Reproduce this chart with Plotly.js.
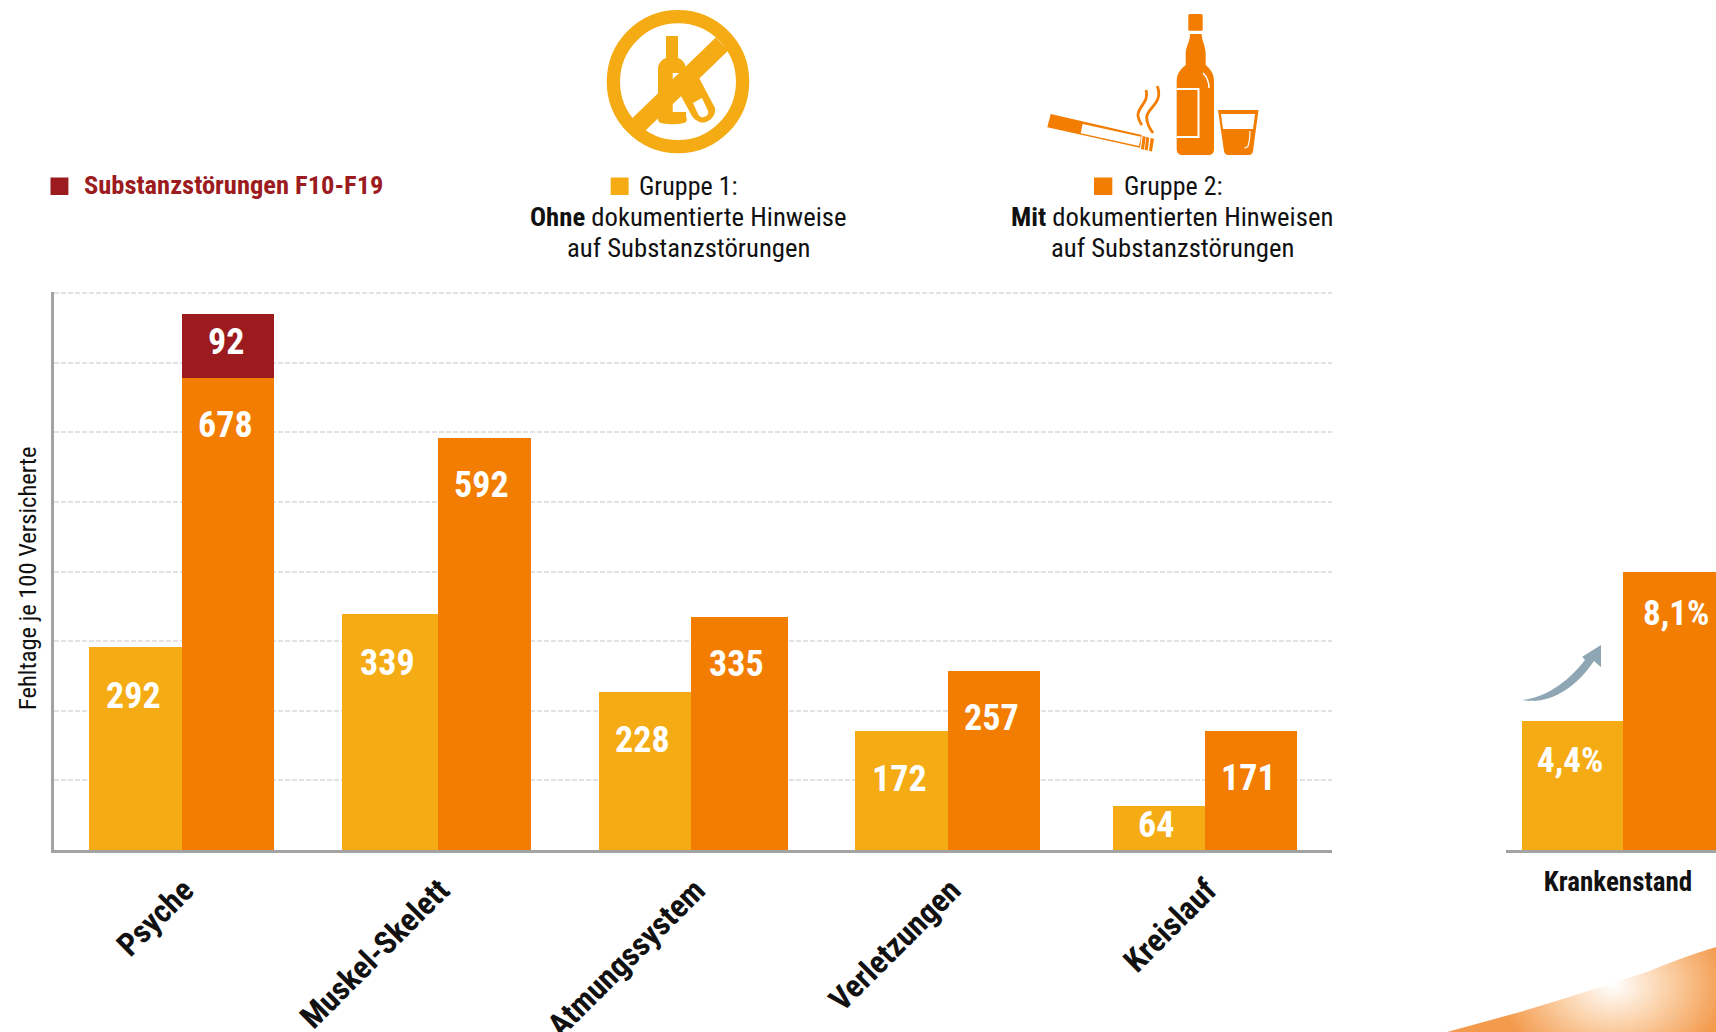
<!DOCTYPE html>
<html><head><meta charset="utf-8">
<script src="https://cdn.plot.ly/plotly-3.0.1.min.js"></script>
<style>html,body{margin:0;padding:0;background:#fff;overflow:hidden}#c{width:1716px;height:1032px}</style>
</head><body><div id="c"></div>
<script>
// ---- data ----
const categories = ['Psyche','Muskel-Skelett','Atmungssystem','Verletzungen','Kreislauf'];
const gruppe1 = [292,339,228,172,64];
const gruppe2 = [678,592,335,257,171];
const substanz = [92,null,null,null,null];
const krankenstandCategory = ['Krankenstand'];
const krankenstandLabels = ['4,4%','8,1%'];
// Printed values are 4.4 and 8.1; the reference draws these bars not to scale,
// so the drawn heights are read off the picture.
const krankenstandHeights = [4.4, 9.44];

// ---- layout ----
const W=1716,H=1032;
const C1='#F5AB14',C2='#F27D00',C3='#9B1B1E';
const COND='"Roboto Condensed",Roboto,sans-serif';
const BASE=850,TOP=291.6;
const yDomain=[(H-BASE)/H,(H-TOP)/H];
const px=x=>x/W, py=y=>1-y/H;
const L=53.5,R=1332,unit=(R-L)/5;
// bar edges in the page (the reference's groups are slightly uneven)
const edgeStart=[88.8,341.3,598,854.7,1112];
const edgeMid=[181.6,437.8,690.8,947.7,1204];
const edgeEnd=[273.5,530,787,1039.7,1296];
const toU=(v,i)=>(v-(L+(i+0.5)*unit))/unit;
const off1=edgeStart.map(toU), off2=edgeMid.map(toU);
const wid1=edgeMid.map((m,i)=>(m-edgeStart[i])/unit), wid2=edgeEnd.map((e,i)=>(e-edgeMid[i])/unit);

const traces=[
 {type:'bar',name:'Gruppe 1',x:categories,y:gruppe1,offset:off1,width:wid1,marker:{color:C1},xaxis:'x',yaxis:'y'},
 {type:'bar',name:'Gruppe 2',x:categories,y:gruppe2,offset:off2,width:wid2,marker:{color:C2},xaxis:'x',yaxis:'y'},
 {type:'bar',name:'Substanzstörungen F10-F19',x:categories,y:substanz,base:gruppe2,offset:off2,width:wid2,marker:{color:C3},xaxis:'x',yaxis:'y'},
 {type:'bar',name:'Krankenstand Gruppe 1',x:krankenstandCategory,y:[krankenstandHeights[0]],offset:-0.4586,width:0.4833,marker:{color:C1},xaxis:'x2',yaxis:'y2'},
 {type:'bar',name:'Krankenstand Gruppe 2',x:krankenstandCategory,y:[krankenstandHeights[1]],offset:0.0248,width:0.4833,marker:{color:C2},xaxis:'x2',yaxis:'y2'}
];

const ann=[];
const vlabel=(x,y,t,shift,xref,yref,size,dx)=>ann.push({x,y,xref:xref||'x',yref:yref||'y',text:String(t),showarrow:false,
  xshift:dx==null?-2:dx,yshift:shift,yanchor:'middle',xanchor:'center',font:{family:COND,size:size||36,weight:700,color:'#fff'}});
categories.forEach((c,i)=>{
  vlabel(i+off1[i]+wid1[i]/2,gruppe1[i],gruppe1[i],gruppe1[i]<100?-20:-49);
  vlabel(i+off2[i]+wid2[i]/2,gruppe2[i],gruppe2[i],-47);
  if(substanz[i]!=null) vlabel(i+off2[i]+wid2[i]/2,gruppe2[i]+substanz[i],substanz[i],-28);
});
vlabel(-0.217,krankenstandHeights[0],krankenstandLabels[0],-40,'x2','y2',35);
vlabel(0.2665,krankenstandHeights[1],krankenstandLabels[1],-42,'x2','y2',35,2);

const txt=(x,y,t,size,color,weight)=>ann.push({xref:'paper',yref:'paper',x:px(x),y:py(y),text:t,showarrow:false,xanchor:'center',yanchor:'middle',
  font:{family:COND,size:size,color:color||'#111',weight:weight||400}});
txt(233,185,'Substanzstörungen F10-F19',26.500,C3,700);
txt(688,186,'Gruppe 1:',26);
txt(688,217,'<b>Ohne</b> dokumentierte Hinweise',26.700);
txt(688,248,'auf Substanzstörungen',26.700);
txt(1173,186,'Gruppe 2:',26);
txt(1172,217,'<b>Mit</b> dokumentierten Hinweisen',26.700);
txt(1172,248,'auf Substanzstörungen',26.700);
ann.push({xref:'paper',yref:'paper',x:px(27),y:py(578),text:'Fehltage je 100 Versicherte',textangle:-90,showarrow:false,xanchor:'center',yanchor:'middle',
  font:{family:COND,size:24.500,color:'#111'}});

const square=(x0,x1,color)=>({type:'rect',xref:'paper',yref:'paper',x0:px(x0),x1:px(x1),y0:py(177.5),y1:py(195),fillcolor:color,line:{width:0}});
const shapes=[square(50.5,68.4,C3),square(610.7,628.6,C1),square(1094,1112.3,C2)];

// decorative artwork (icons, arrow, corner swoosh) as one transparent SVG over the page
const art=`<svg xmlns="http://www.w3.org/2000/svg" width="${W}" height="${H}" viewBox="0 0 ${W} ${H}">
<defs><radialGradient id="g" gradientUnits="userSpaceOnUse" cx="1613" cy="985" r="115" gradientTransform="translate(1613 985) scale(1 0.75) translate(-1613 -985)">
<stop offset="0" stop-color="#fff"/><stop offset="0.45" stop-color="#FBD3AC"/><stop offset="1" stop-color="#F39A4C"/></radialGradient></defs>
<path d="M1447 1032 L1520 1012 Q1570 997 1613 983 L1647 972 Q1680 958 1716 947 L1716 1032Z" fill="url(#g)"/>
<path d="M1521.7 700 C1540 699 1565 686 1585 660 L1582.3 656.7 L1601 645 V667.3 L1594 661 C1576 688 1550 705 1521.7 700Z" fill="#8FA6B5"/>
<g fill="${C1}">
<path d="M666 36H678V58C683 60 686 64 686 69V116C687 118 687 121 686 122C682 125 662 125 659 122C658 121 658 118 658 116V69C658 64 661 60 666 58Z"/>
<path d="M672.700 73H687V112H672.700Z" fill="#fff"/>
<path d="M683 82L698 76L715 108C716 114 712 120 706 122C700 124 695 120 692 116L681 96Z"/>
<path d="M693 103L702 98L708 111C709 114 707 116 704 117C701 118 699 116 698 114Z" fill="#fff"/>
</g>
<ellipse cx="678" cy="81.700" rx="64.600" ry="65" fill="none" stroke="${C1}" stroke-width="13.300"/>
<path d="M632 131L722 44" stroke="${C1}" stroke-width="18" fill="none"/>
<g fill="${C2}">
<rect x="1188.300" y="14" width="14.400" height="16.700" rx="1.500"/>
<path d="M1190 34H1201.700C1202 42 1205.700 46 1205.700 54V65C1210 69 1214 73 1214 81V149C1214 153 1212 155 1208 155H1183C1179 155 1176.700 153 1176.700 149V81C1176.700 73 1181 69 1185.700 65V54C1185.700 46 1190 42 1190 34Z"/>
<path d="M1050.700 114L1141.700 135L1140 147.700L1047.300 127.300Z"/>
<path d="M1142.700 136L1145.700 136.700L1144 149.700L1141 149Z M1146.300 137L1149.300 137.700L1147.700 150.500L1144.700 149.800Z M1150.700 138L1154 138.700L1152 151.500L1149 150.800Z"/>
<path d="M1218 110H1258.500L1253 151C1253 153 1251 155 1249 155H1228C1226 155 1224 153 1224 151Z"/>
</g>
<path d="M1082.700 124L1080.700 133.300L1139 146L1141 136.700Z" fill="#fff"/>
<path d="M1176.700 89H1198.500V137H1176.700" fill="none" stroke="#fff" stroke-width="2"/>
<path d="M1203 73C1207 77 1209 82 1209 88" fill="none" stroke="#fff" stroke-width="1.500"/>
<path d="M1221 114H1255L1253 129H1223Z" fill="#fff"/>
<path d="M1250 131C1250 138 1249 143 1248 146C1247 148 1246 148 1244 148" fill="none" stroke="#fff" stroke-width="1.200"/>
<g fill="none" stroke="${C2}" stroke-width="2.800">
<path d="M1146 90C1150 102 1137 107 1138 116C1139 120 1140 123 1142 125"/>
<path d="M1157.300 86C1164 104 1146 108 1146.700 118C1147 125 1150 129 1153 133"/>
</g>
</svg>`;

const layout={
 width:W,height:H,margin:{l:0,r:0,t:0,b:0},paper_bgcolor:'#fff',plot_bgcolor:'#fff',showlegend:false,barmode:'overlay',bargap:0,
 font:{family:COND,color:'#111'},
 xaxis:{domain:[L/W,R/W],type:'category',categoryorder:'array',categoryarray:categories,range:[-0.5,4.5],
   showline:true,linecolor:'#A3A3A3',linewidth:2.5,showgrid:false,ticks:'',tickangle:-45,ticklabelshift:3,ticklabelstandoff:6,
   tickfont:{family:COND,size:32,weight:700,color:'#111'},anchor:'y',automargin:false,zeroline:false},
 yaxis:{domain:yDomain,range:[0,802],dtick:100,showticklabels:false,ticks:'',showline:true,linecolor:'#A3A3A3',linewidth:2.5,
   showgrid:true,gridcolor:'#E2E2E2',gridwidth:2,griddash:'5px,2px',zeroline:false,anchor:'x',automargin:false},
 xaxis2:{domain:[1506/W,1],type:'category',range:[-0.533,0.467],showline:true,linecolor:'#A3A3A3',linewidth:2.5,showgrid:false,ticks:'',
   tickfont:{family:COND,size:27,weight:700,color:'#111'},ticklabelstandoff:6,anchor:'y2',tickangle:0,automargin:false,zeroline:false},
 yaxis2:{domain:yDomain,range:[0,18.95],visible:false,anchor:'x2'},
 annotations:ann,shapes:shapes,
 images:[{source:'data:image/svg+xml;charset=utf-8,'+encodeURIComponent(art),xref:'paper',yref:'paper',x:0,y:1,sizex:1,sizey:1,xanchor:'left',yanchor:'top',sizing:'stretch',layer:'above'}]
};
Plotly.newPlot('c',traces,layout,{displayModeBar:false,responsive:false});
</script></body></html>
